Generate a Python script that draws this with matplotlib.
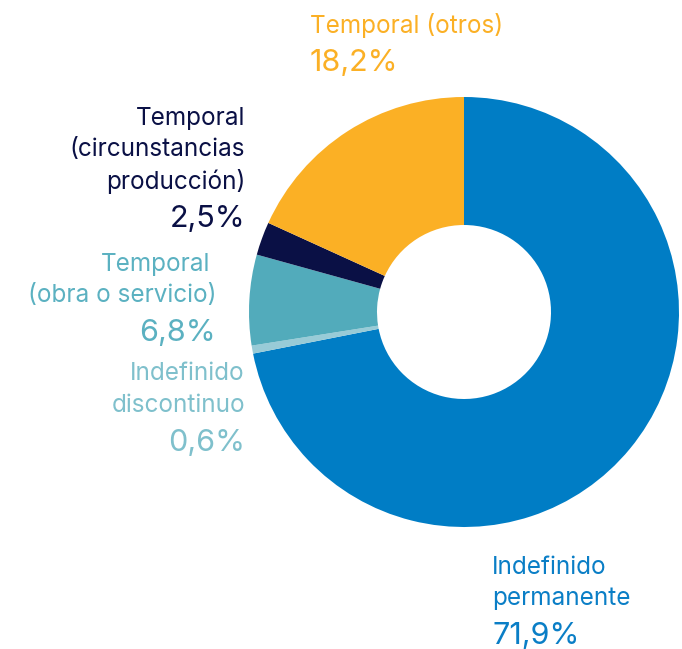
import matplotlib.pyplot as plt

# contract type shares (%), clockwise from 12 o'clock
labels = ["Indefinido\npermanente", "Indefinido\ndiscontinuo", "Temporal\n(obra o servicio)",
          "Temporal\n(circunstancias\nproducción)", "Temporal (otros)"]
values = [71.9, 0.6, 6.8, 2.5, 18.2]
value_text = ["71,9%", "0,6%", "6,8%", "2,5%", "18,2%"]

wedge_colors = ["#007dc5", "#98cbd7", "#52abbb", "#0a1045", "#fbb025"]
text_colors = ["#0a7ec6", "#7fc0cc", "#5bb1c1", "#0a1045", "#fbb025"]

W, H = 682, 649
plt.rcParams["font.family"] = ["Inter", "DejaVu Sans"]

fig = plt.figure(figsize=(W / 100, H / 100), dpi=100)
ax = fig.add_axes([0, 0, 1, 1])

cx, cy, r_out, r_in = 464, H - 312, 215, 87
ax.pie(values, colors=wedge_colors, startangle=90, counterclock=False,
       center=(cx, cy), radius=r_out, frame=True,
       wedgeprops=dict(width=r_out - r_in, linewidth=0))
ax.set_xlim(0, W)
ax.set_ylim(0, H)
ax.set_aspect("equal")
ax.axis("off")

# label anchors in pixel coords (x, y of first line, alignment)
pos = [(492, 567, "left"), (245, 374, "right"), (216, 264, "right"),
       (245, 118, "right"), (310, 25, "left")]
line_h = 31.5

for lab, val, col, (x, y, ha) in zip(labels, value_text, text_colors, pos):
    lines = lab.split("\n")
    for i, ln in enumerate(lines):
        xx = x
        if ln == "Temporal" and ha == "right" and len(lines) == 2:
            xx = x - 6
        ax.text(xx, H - (y + i * line_h), ln, ha=ha, va="center",
                fontsize=17.5, color=col)
    ax.text(x, H - (y + len(lines) * line_h + 6), val, ha=ha, va="center",
            fontsize=22, color=col)

fig.savefig("out.png", dpi=100)
